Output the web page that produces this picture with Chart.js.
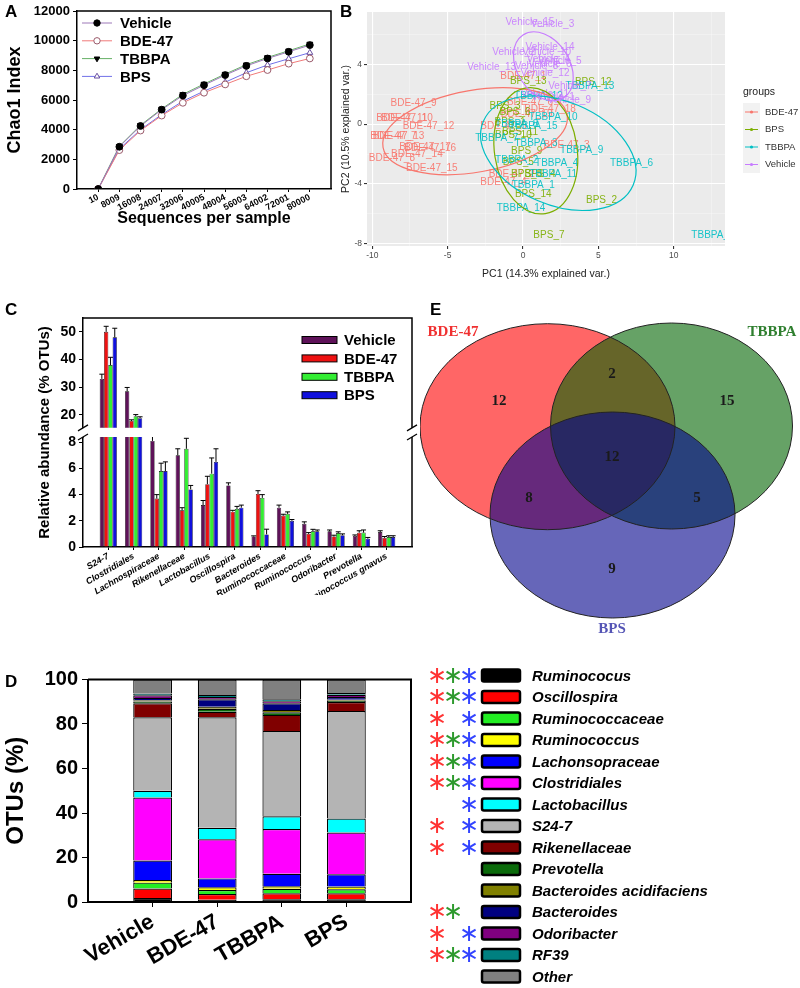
<!DOCTYPE html>
<html>
<head>
<meta charset="utf-8">
<script src="https://cdn.jsdelivr.net/npm/chart.js@4.4.0/dist/chart.umd.min.js"></script>
<style>
  body { margin: 0; background: #fff; width: 800px; height: 988px; position: relative; overflow: hidden; font-family: "Liberation Sans", Arial, sans-serif; }
  canvas { position: absolute; }
  .tag { position: absolute; font-weight: bold; font-size: 17px; line-height: 17px; }
</style>
</head>
<body>
<canvas id="cA" width="340" height="228" style="left:0;top:0"></canvas>
<canvas id="cB" width="460" height="280" style="left:340px;top:0"></canvas>
<canvas id="cC" width="420" height="300" style="left:0;top:295px"></canvas>
<canvas id="cE" width="380" height="350" style="left:420px;top:290px"></canvas>
<canvas id="cD" width="800" height="328" style="left:0;top:660px"></canvas>
<div class="tag" style="left:5px;top:3px">A</div>
<div class="tag" style="left:340px;top:3px">B</div>
<div class="tag" style="left:5px;top:301px">C</div>
<div class="tag" style="left:5px;top:673px">D</div>
<div class="tag" style="left:430px;top:301px">E</div>
<script>
// ---- A: rarefaction curves ----
const seqDepth = [10, 8009, 16008, 24007, 32006, 40005, 48004, 56003, 64002, 72001, 80000];
const chaoVehicle = [0, 2850, 4250, 5350, 6300, 7000, 7680, 8300, 8800, 9250, 9700];
const chaoBDE47 = [0, 2620, 3940, 4950, 5810, 6490, 7050, 7600, 8020, 8450, 8800];
const chaoTBBPA = [0, 2880, 4300, 5400, 6380, 7080, 7750, 8380, 8870, 9320, 9780];
const chaoBPS = [0, 2700, 4000, 5020, 5920, 6600, 7200, 7840, 8360, 8780, 9190];

// ---- B: PCA ----
const pcaGroups = ['BDE-47', 'BPS', 'TBBPA', 'Vehicle'];
const pcaColors = ['#F8766D', '#7CAE00', '#00BFC4', '#C77CFF'];
const pcaBdeNames = ['BDE-47_9', 'BDE-47_10', 'BDE-47_11', 'BDE-47_12', 'BDE-47_13', 'BDE-47_7', 'BDE-47_16', 'BDE-47_17', 'BDE-47_14', 'BDE-47_8', 'BDE-47_15', 'BDE-47_3', 'BDE-47_5', 'BDE-47_2', 'BDE-47_4', 'BDE-47_6', 'BDE-47_18', 'BDE-47_1', 'BDE-47_19'];
const pcaBdeX = [-7.26, -7.7, -8.04, -6.27, -8.26, -8.6, -6.16, -6.5, -7.04, -8.7, -6.05, 2.89, -1.3, -0.75, -1.3, 0.46, 1.79, 0.02, 0.24];
const pcaBdeY = [1.38, 0.4, 0.4, -0.16, -0.78, -0.78, -1.6, -1.56, -2.0, -2.27, -2.96, -1.44, -0.11, -3.38, -3.89, 1.44, 1.0, 3.22, 0.67];
const pcaBpsNames = ['BPS_12', 'BPS_3', 'BPS_10', 'BPS_9', 'BPS_14', 'BPS_2', 'BPS_7', 'BPS_1', 'BPS_5', 'BPS_8', 'BPS_13', 'BPS_6', 'BPS_4', 'BPS_11'];
const pcaBpsX = [4.66, -1.19, -0.64, 0.24, 0.68, 5.21, 1.72, -0.86, -0.31, 0.24, 0.35, -0.53, 1.13, -0.2];
const pcaBpsY = [2.78, 1.22, -0.71, -1.84, -4.67, -5.07, -7.44, 0.11, -2.56, -3.33, 2.89, 0.78, -3.33, -0.51];
const pcaTbbpaNames = ['TBBPA_13', 'TBBPA_10', 'TBBPA_8', 'TBBPA_7', 'TBBPA_3', 'TBBPA_9', 'TBBPA_6', 'TBBPA_4', 'TBBPA_11', 'TBBPA_1', 'TBBPA_14', 'TBBPA_5', 'TBBPA_2', 'TBBPA_12', 'TBBPA_15'];
const pcaTbbpaX = [4.44, 2.0, -0.42, -1.74, 0.86, 3.89, 7.2, 2.23, 2.0, 0.68, -0.13, 12.6, -0.42, 1.02, 0.68];
const pcaTbbpaY = [2.51, 0.44, 0.0, -0.96, -1.29, -1.73, -2.62, -2.62, -3.38, -4.11, -5.6, -7.4, -2.44, 1.84, -0.11];
const pcaVehNames = ['Vehicle_15', 'Vehicle_3', 'Vehicle_14', 'Vehicle_2', 'Vehicle_10', 'Vehicle_4', 'Vehicle_6', 'Vehicle_13', 'Vehicle_12', 'Vehicle_8', 'Vehicle_7', 'Vehicle_11', 'Vehicle_9', 'Vehicle_1', 'Vehicle_5'];
const pcaVehX = [0.46, 1.96, 1.79, -0.6, 1.57, 1.68, 1.79, -2.08, 1.46, 0.9, 3.11, 1.46, 3.07, 2.0, 2.45];
const pcaVehY = [6.82, 6.67, 5.16, 4.82, 4.78, 4.33, 4.0, 3.82, 3.4, 3.9, 2.51, 2.0, 1.6, 1.78, 4.2];
// confidence ellipses, same order as pcaGroups
const ellCx = [-3.18, 0.85, 2.34, 1.35];
const ellCy = [-0.47, -1.78, -1.94, 3.87];
const ellRx = [6.2, 2.74, 5.4, 1.73];
const ellRy = [2.74, 4.25, 3.46, 2.5];
const ellRot = [-10, -8.6, 23, -33];

// ---- C: relative abundance ----
const genera = ['S24-7', 'Clostridiales', 'Lachnospiraceae', 'Rikenellaceae', 'Lactobacillus', 'Oscillospira', 'Bacteroides', 'Ruminococcaceae', 'Ruminococcus', 'Odoribacter', 'Prevotella', 'Ruminococcus gnavus'];
const groups = ['Vehicle', 'BDE-47', 'TBBPA', 'BPS'];
const groupColors = ['#5e1259', '#ee1111', '#33ee33', '#1010dd'];
const relVehicle = [33.0, 28.5, 8.1, 7.0, 3.2, 4.7, 0.8, 3.0, 1.77, 1.2, 0.84, 1.14];
const relBDE47 = [50.0, 17.8, 3.7, 2.8, 4.8, 2.7, 4.05, 2.4, 1.0, 0.8, 1.09, 0.7];
const relTBBPA = [38.0, 19.5, 5.8, 7.5, 5.6, 2.9, 3.75, 2.53, 1.2, 1.06, 1.1, 0.76];
const relBPS = [48.0, 18.8, 5.8, 4.4, 6.5, 3.0, 0.96, 2.0, 1.2, 0.9, 0.63, 0.76];
const errVehicle = [1.7, 1.4, 0.35, 0.5, 0.35, 0.2, 0.05, 0.2, 0.15, 0.1, 0.08, 0.1];
const errBDE47 = [2.0, 0.4, 0.3, 0.2, 0.6, 0.1, 0.25, 0.1, 0.1, 0.1, 0.15, 0.1];
const errTBBPA = [2.8, 0.6, 0.6, 0.8, 1.2, 0.2, 0.25, 0.15, 0.15, 0.1, 0.2, 0.1];
const errBPS = [3.3, 0.5, 0.7, 0.3, 1.0, 0.2, 0.4, 0.1, 0.1, 0.1, 0.1, 0.1];
const breakTop = 15.3;

// ---- D: OTU composition (stack order bottom -> top) ----
const taxa = ['Ruminococus', 'Oscillospira', 'Ruminococcaceae', 'Ruminococcus', 'Lachonsopraceae', 'Clostridiales', 'Lactobacillus', 'S24-7', 'Rikenellaceae', 'Prevotella', 'Bacteroides acidifaciens', 'Bacteroides', 'Odoribacter', 'RF39', 'Other'];
const taxaColors = ['#000000', '#ff0000', '#22ee22', '#ffff00', '#0000ff', '#ff00ff', '#00ffff', '#b4b4b4', '#800000', '#0a6a0a', '#808000', '#000080', '#800080', '#008080', '#808080'];
const compVehicle = [1.8, 4.3, 2.6, 1.2, 8.7, 28.4, 3.0, 33.0, 6.3, 0.8, 0.6, 1.0, 1.2, 0.8, 6.3];
const compBDE47 = [1.0, 2.6, 1.8, 1.2, 4.0, 17.6, 5.2, 49.6, 2.5, 1.3, 1.0, 3.3, 1.0, 0.9, 7.0];
const compTBBPA = [1.2, 2.7, 2.0, 1.2, 5.6, 20.1, 5.7, 38.4, 7.2, 1.2, 1.0, 3.0, 0.9, 0.9, 8.9];
const compBPS = [1.2, 2.7, 1.8, 1.3, 5.5, 18.7, 6.3, 48.3, 4.1, 0.5, 0.5, 1.2, 1.0, 0.8, 6.1];
const sigBDE47 = [1, 1, 1, 1, 1, 1, 0, 1, 1, 0, 0, 1, 1, 1, 0];
const sigTBBPA = [1, 1, 0, 1, 1, 1, 0, 0, 0, 0, 0, 1, 0, 1, 0];
const sigBPS = [1, 1, 1, 1, 1, 1, 1, 1, 1, 0, 0, 0, 1, 1, 0];

// ---- E: Venn ----
const vennSets = ['BDE-47', 'TBBPA', 'BPS'];
const vennFill = ['rgba(255,0,0,0.6)', 'rgba(0,100,0,0.6)', 'rgba(0,0,139,0.6)'];
const vennText = ['#f03030', '#2f7f2f', '#5555b5'];
const vennCx = [-0.625, 0.615, 0.025];
const vennCy = [0.433, 0.44, -0.45];
const vennRx = [1.275, 1.21, 1.225];
const vennRy = [1.03, 1.03, 1.03];
const vennNameX = [-1.57, 1.62, 0.02];
const vennNameY = [1.38, 1.38, -1.59];
const vennCounts = [12, 2, 15, 12, 8, 5, 9];
const vennCountX = [-1.11, 0.02, 1.17, 0.02, -0.81, 0.87, 0.02];
const vennCountY = [0.69, 0.96, 0.69, 0.13, -0.28, -0.28, -0.99];

const FONT = '"Liberation Sans", Arial, sans-serif';
Chart.defaults.font.family = FONT;
Chart.defaults.color = '#000';
Chart.defaults.animation = false;
Chart.defaults.responsive = false;
Chart.defaults.devicePixelRatio = 1;
Chart.defaults.plugins.legend.display = false;
Chart.defaults.plugins.tooltip.enabled = false;

const frame = {
  id: 'frame',
  afterDraw(chart, args, opts) {
    const { ctx, chartArea: a } = chart;
    ctx.save();
    ctx.strokeStyle = '#000';
    ctx.lineWidth = opts.width || 1.5;
    ctx.beginPath();
    ctx.moveTo(a.left, a.top);
    ctx.lineTo(a.right, a.top);
    ctx.lineTo(a.right, a.bottom);
    ctx.stroke();
    ctx.restore();
  }
};

// ================= A =================
const seriesA = [
  { label: 'Vehicle', data: chaoVehicle, line: '#9d78b8', style: 'circle', rot: 0, fill: '#000', edge: '#000' },
  { label: 'BDE-47', data: chaoBDE47, line: '#f07a7a', style: 'circle', rot: 0, fill: '#fff', edge: '#9a5a6a' },
  { label: 'TBBPA', data: chaoTBBPA, line: '#66b066', style: 'triangle', rot: 180, fill: '#000', edge: '#000' },
  { label: 'BPS', data: chaoBPS, line: '#7070e8', style: 'triangle', rot: 0, fill: '#fff', edge: '#6a50a0' }
];

const lineLegend = {
  id: 'lineLegend',
  afterDraw(chart) {
    const { ctx, chartArea: a } = chart;
    ctx.save();
    chart.data.datasets.forEach((ds, i) => {
      const y = a.top + 12 + i * 17.8;
      const x0 = a.left + 5;
      ctx.strokeStyle = ds.borderColor;
      ctx.lineWidth = 1;
      ctx.beginPath();
      ctx.moveTo(x0, y);
      ctx.lineTo(x0 + 30, y);
      ctx.stroke();
      ctx.fillStyle = ds.pointBackgroundColor;
      ctx.strokeStyle = ds.pointBorderColor;
      Chart.helpers.drawPoint(ctx, { pointStyle: ds.pointStyle, rotation: ds.pointRotation, radius: 3.2, borderWidth: 1 }, x0 + 15, y);
      ctx.fillStyle = '#000';
      ctx.font = 'bold 15px ' + FONT;
      ctx.textBaseline = 'middle';
      ctx.fillText(ds.label, x0 + 38, y + 1);
    });
    ctx.restore();
  }
};

new Chart(document.getElementById('cA'), {
  type: 'line',
  data: {
    datasets: seriesA.map(s => ({
      label: s.label,
      data: seqDepth.map((x, i) => ({ x, y: s.data[i] })),
      borderColor: s.line,
      borderWidth: 1,
      pointStyle: s.style,
      pointRotation: s.rot,
      pointRadius: 3.4,
      pointBackgroundColor: s.fill,
      pointBorderColor: s.edge,
      pointBorderWidth: 1
    }))
  },
  options: {
    layout: { padding: { top: 11, right: 9 } },
    plugins: { frame: { width: 1.5 } },
    scales: {
      x: {
        type: 'linear', min: -8000, max: 88000, offset: false,
        afterBuildTicks: s => { s.ticks = seqDepth.map(v => ({ value: v })); },
        afterFit: s => { s.height = 39; },
        ticks: { autoSkip: false, minRotation: 27, maxRotation: 27, padding: 0, font: { size: 9, weight: 'bold' }, callback: v => String(v) },
        grid: { drawOnChartArea: false, tickLength: 3, color: '#000' },
        border: { color: '#000', width: 1.5 },
        title: { display: true, text: 'Sequences per sample', font: { size: 16, weight: 'bold' }, padding: 0 }
      },
      y: {
        min: 0, max: 12000,
        afterFit: s => { s.width = 77; },
        ticks: { stepSize: 2000, font: { size: 13, weight: 'bold' }, padding: 3, callback: v => String(v) },
        grid: { drawOnChartArea: false, tickLength: 4, color: '#000' },
        border: { color: '#000', width: 1.5 },
        title: { display: true, text: 'Chao1 Index', font: { size: 18, weight: 'bold' } }
      }
    }
  },
  plugins: [frame, lineLegend]
});

// ================= B =================
const ggBack = {
  id: 'ggBack',
  beforeDraw(chart) {
    const { ctx, chartArea: a } = chart;
    ctx.save();
    ctx.fillStyle = '#ebebeb';
    ctx.fillRect(a.left, a.top, a.width, a.height);
    ctx.restore();
  }
};

const pcaMarks = {
  id: 'pcaMarks',
  afterDatasetsDraw(chart) {
    const { ctx, chartArea: a, scales: { x, y } } = chart;
    const kx = Math.abs(x.getPixelForValue(1) - x.getPixelForValue(0));
    const ky = Math.abs(y.getPixelForValue(1) - y.getPixelForValue(0));
    ctx.save();
    ctx.beginPath();
    ctx.rect(a.left, a.top, a.width, a.height);
    ctx.clip();
    ctx.font = '10px ' + FONT;
    ctx.textAlign = 'center';
    ctx.textBaseline = 'middle';
    chart.data.datasets.forEach((ds, i) => {
      const meta = chart.getDatasetMeta(i);
      ctx.fillStyle = ds.borderColor;
      ctx.globalAlpha = 0.9;
      meta.data.forEach((pt, j) => ctx.fillText(ds.names[j], pt.x, pt.y));
    });
    ctx.globalAlpha = 1;
    ctx.lineWidth = 1.2;
    pcaGroups.forEach((g, i) => {
      ctx.strokeStyle = pcaColors[i];
      ctx.beginPath();
      ctx.ellipse(x.getPixelForValue(ellCx[i]), y.getPixelForValue(ellCy[i]), ellRx[i] * kx, ellRy[i] * ky, ellRot[i] * Math.PI / 180, 0, 2 * Math.PI);
      ctx.stroke();
    });
    ctx.restore();
  }
};

const ggLegend = {
  id: 'ggLegend',
  afterDraw(chart) {
    const { ctx, chartArea: a } = chart;
    const x0 = a.right + 18;
    ctx.save();
    ctx.fillStyle = '#222';
    ctx.font = '10.5px ' + FONT;
    ctx.textBaseline = 'middle';
    ctx.fillText('groups', x0, a.top + 80);
    ctx.fillStyle = '#f2f2f2';
    ctx.fillRect(x0, a.top + 91, 17, 70);
    pcaGroups.forEach((g, i) => {
      const y = a.top + 100 + i * 17.5;
      ctx.strokeStyle = pcaColors[i];
      ctx.lineWidth = 1;
      ctx.beginPath();
      ctx.moveTo(x0 + 2, y);
      ctx.lineTo(x0 + 15, y);
      ctx.stroke();
      ctx.fillStyle = pcaColors[i];
      ctx.beginPath();
      ctx.arc(x0 + 8.5, y, 1.6, 0, 2 * Math.PI);
      ctx.fill();
      ctx.fillStyle = '#333';
      ctx.font = '9.5px ' + FONT;
      ctx.fillText(g, x0 + 22, y);
    });
    ctx.restore();
  }
};

const pcaNames = [pcaBdeNames, pcaBpsNames, pcaTbbpaNames, pcaVehNames];
const pcaXs = [pcaBdeX, pcaBpsX, pcaTbbpaX, pcaVehX];
const pcaYs = [pcaBdeY, pcaBpsY, pcaTbbpaY, pcaVehY];
const isMajor = (v, step) => Math.abs(v / step - Math.round(v / step)) < 1e-6;

new Chart(document.getElementById('cB'), {
  type: 'scatter',
  data: {
    datasets: pcaGroups.map((g, i) => ({
      label: g,
      names: pcaNames[i],
      data: pcaXs[i].map((x, j) => ({ x, y: pcaYs[i][j] })),
      borderColor: pcaColors[i],
      pointRadius: 0
    }))
  },
  options: {
    layout: { padding: { top: 12, right: 75 } },
    scales: {
      x: {
        type: 'linear', min: -10.35, max: 13.4,
        afterBuildTicks: s => { const t = []; for (let v = -10; v <= 12.5; v += 2.5) t.push({ value: v }); s.ticks = t; },
        afterFit: s => { s.height = 34; },
        ticks: { color: '#4d4d4d', font: { size: 8.5 }, padding: 2, maxRotation: 0, callback: v => isMajor(v, 5) ? v : '' },
        grid: {
          color: c => (c.tick && isMajor(c.tick.value, 5)) ? '#ffffff' : 'rgba(255,255,255,0.6)',
          lineWidth: c => (c.tick && isMajor(c.tick.value, 5)) ? 1.1 : 0.5,
          tickColor: c => (c.tick && isMajor(c.tick.value, 5)) ? '#333' : 'rgba(0,0,0,0)',
          tickLength: 3
        },
        border: { display: false },
        title: { display: true, text: 'PC1 (14.3% explained var.)', color: '#222', font: { size: 10.5 }, padding: 0 }
      },
      y: {
        min: -8.15, max: 7.5,
        afterBuildTicks: s => { const t = []; for (let v = -8; v <= 6; v += 2) t.push({ value: v }); s.ticks = t; },
        afterFit: s => { s.width = 27; },
        ticks: { color: '#4d4d4d', font: { size: 8.5 }, padding: 2, autoSkip: false, callback: v => isMajor(v, 4) ? v : '' },
        grid: {
          color: c => (c.tick && isMajor(c.tick.value, 4)) ? '#ffffff' : 'rgba(255,255,255,0.6)',
          lineWidth: c => (c.tick && isMajor(c.tick.value, 4)) ? 1.1 : 0.5,
          tickColor: c => (c.tick && isMajor(c.tick.value, 4)) ? '#333' : 'rgba(0,0,0,0)',
          tickLength: 3
        },
        border: { display: false },
        title: { display: true, text: 'PC2 (10.5% explained var.)', color: '#222', font: { size: 10.5 }, padding: 0 }
      }
    }
  },
  plugins: [ggBack, pcaMarks, ggLegend]
});

// ================= C =================
const relSeries = [relVehicle, relBDE47, relTBBPA, relBPS];
const errSeries = [errVehicle, errBDE47, errTBBPA, errBPS];

const axisClip = {
  id: 'axisClip',
  beforeDatasetDraw(chart, args) {
    const { ctx, chartArea: a } = chart;
    const ys = args.meta.yScale;
    const bottom = ys.id === 'yHigh' ? ys.getPixelForValue(breakTop) : ys.bottom;
    ctx.save();
    ctx.beginPath();
    ctx.rect(a.left, ys.top, a.width, bottom - ys.top);
    ctx.clip();
  },
  afterDatasetDraw(chart, args) {
    const ctx = chart.ctx;
    const ds = chart.data.datasets[args.index];
    const ys = args.meta.yScale;
    ctx.strokeStyle = '#000';
    ctx.lineWidth = 1;
    args.meta.data.forEach((bar, j) => {
      const yTop = ys.getPixelForValue(ds.data[j].y + ds.err[j]);
      ctx.beginPath();
      ctx.moveTo(bar.x, bar.y);
      ctx.lineTo(bar.x, yTop);
      ctx.moveTo(bar.x - 2.5, yTop);
      ctx.lineTo(bar.x + 2.5, yTop);
      ctx.stroke();
    });
    ctx.restore();
  }
};

const brokenFrame = {
  id: 'brokenFrame',
  afterDraw(chart) {
    const { ctx, chartArea: a, scales } = chart;
    const gTop = scales.yHigh.getPixelForValue(breakTop);
    const gBot = scales.yLow.top;
    ctx.save();
    ctx.strokeStyle = '#000';
    ctx.lineWidth = 1.5;
    ctx.beginPath();
    ctx.moveTo(a.left, a.top);
    ctx.lineTo(a.right, a.top);
    ctx.lineTo(a.right, a.bottom);
    ctx.stroke();
    ctx.fillStyle = '#fff';
    ctx.lineWidth = 1.2;
    [a.left, a.right].forEach(x => {
      ctx.fillRect(x - 3, gTop, 6, gBot - gTop);
      [gTop, gBot].forEach(y => {
        ctx.beginPath();
        ctx.moveTo(x - 5, y + 3);
        ctx.lineTo(x + 5, y - 3);
        ctx.stroke();
      });
    });
    // group legend
    groups.forEach((g, i) => {
      const y = a.top + 22 + i * 18.4;
      const x0 = a.left + 219;
      ctx.fillStyle = groupColors[i];
      ctx.fillRect(x0, y - 3.5, 35, 7);
      ctx.lineWidth = 1;
      ctx.strokeRect(x0, y - 3.5, 35, 7);
      ctx.fillStyle = '#000';
      ctx.font = 'bold 15px ' + FONT;
      ctx.textBaseline = 'middle';
      ctx.fillText(g, x0 + 42, y + 1);
    });
    // y title spanning both segments
    ctx.translate(45, (a.top + a.bottom) / 2);
    ctx.rotate(-Math.PI / 2);
    ctx.font = 'bold 15px ' + FONT;
    ctx.textAlign = 'center';
    ctx.textBaseline = 'middle';
    ctx.fillText('Relative abundance (% OTUs)', 0, 0);
    ctx.restore();
  }
};

const datasetsC = [];
['yLow', 'yHigh'].forEach(axis => {
  groups.forEach((g, i) => {
    datasetsC.push({
      label: g,
      stack: g,
      yAxisID: axis,
      data: relSeries[i].map((v, j) => ({ x: j + 1, y: v })),
      err: errSeries[i],
      backgroundColor: groupColors[i],
      borderColor: '#000',
      borderWidth: 0.6,
      categoryPercentage: 0.68,
      barPercentage: 1
    });
  });
});

const yCommon = {
  afterFit: s => { s.width = 83; },
  grid: { drawOnChartArea: false, tickLength: 4, color: '#000' },
  border: { color: '#000', width: 1.5 }
};

new Chart(document.getElementById('cC'), {
  type: 'bar',
  data: { datasets: datasetsC },
  options: {
    layout: { padding: { top: 23, right: 8 } },
    scales: {
      x: {
        type: 'linear', min: 0, max: genera.length + 1, offset: false,
        afterBuildTicks: s => { s.ticks = genera.map((g, j) => ({ value: j + 1 })); },
        afterFit: s => { s.height = 48; },
        ticks: { autoSkip: false, minRotation: 30, maxRotation: 30, padding: 1, font: { size: 9, weight: 'bold', style: 'italic' }, callback: v => genera[v - 1] },
        grid: { drawOnChartArea: false, tickLength: 3, color: '#000', offset: false },
        border: { color: '#000', width: 1.5 }
      },
      yLow: Object.assign({}, yCommon, {
        type: 'linear', position: 'left', stack: 'c', stackWeight: 110, min: 0, max: 8.4,
        afterBuildTicks: s => { s.ticks = [0, 2, 4, 6, 8].map(v => ({ value: v })); },
        ticks: { autoSkip: false, font: { size: 14, weight: 'bold' }, padding: 3 }
      }),
      yHigh: Object.assign({}, yCommon, {
        type: 'linear', position: 'left', stack: 'c', stackWeight: 119, min: 12, max: 55,
        afterBuildTicks: s => { s.ticks = [20, 30, 40, 50].map(v => ({ value: v })); },
        ticks: { autoSkip: false, font: { size: 14, weight: 'bold' }, padding: 3 }
      })
    }
  },
  plugins: [axisClip, brokenFrame]
});

// ================= E =================
const venn = {
  id: 'venn',
  beforeDatasetsDraw(chart) {
    const { ctx, scales: { x, y } } = chart;
    const kx = x.getPixelForValue(1) - x.getPixelForValue(0);
    const ky = y.getPixelForValue(0) - y.getPixelForValue(1);
    ctx.save();
    vennSets.forEach((s, i) => {
      ctx.beginPath();
      ctx.ellipse(x.getPixelForValue(vennCx[i]), y.getPixelForValue(vennCy[i]), vennRx[i] * kx, vennRy[i] * ky, 0, 0, 2 * Math.PI);
      ctx.fillStyle = vennFill[i];
      ctx.fill();
    });
    ctx.strokeStyle = '#222';
    ctx.lineWidth = 1;
    vennSets.forEach((s, i) => {
      ctx.beginPath();
      ctx.ellipse(x.getPixelForValue(vennCx[i]), y.getPixelForValue(vennCy[i]), vennRx[i] * kx, vennRy[i] * ky, 0, 0, 2 * Math.PI);
      ctx.stroke();
    });
    ctx.font = 'bold 15px "Liberation Serif", "DejaVu Serif", serif';
    ctx.textAlign = 'center';
    ctx.textBaseline = 'middle';
    vennSets.forEach((s, i) => {
      ctx.fillStyle = vennText[i];
      ctx.fillText(s, x.getPixelForValue(vennNameX[i]), y.getPixelForValue(vennNameY[i]));
    });
    ctx.restore();
  },
  afterDatasetsDraw(chart) {
    const ctx = chart.ctx;
    const meta = chart.getDatasetMeta(0);
    ctx.save();
    ctx.font = 'bold 15px "Liberation Serif", "DejaVu Serif", serif';
    ctx.textAlign = 'center';
    ctx.textBaseline = 'middle';
    ctx.fillStyle = '#1a1a1a';
    meta.data.forEach((pt, j) => ctx.fillText(String(vennCounts[j]), pt.x, pt.y));
    ctx.restore();
  }
};

new Chart(document.getElementById('cE'), {
  type: 'scatter',
  data: { datasets: [{ data: vennCountX.map((x, j) => ({ x, y: vennCountY[j] })), pointRadius: 0 }] },
  options: {
    layout: { padding: 0 },
    scales: {
      x: { display: false, min: -1.9, max: 1.9 },
      y: { display: false, min: -1.7, max: 1.8 }
    }
  },
  plugins: [venn]
});

// ================= D =================
const compSeries = [compVehicle, compBDE47, compTBBPA, compBPS];
const sigSeries = [sigBDE47, sigTBBPA, sigBPS];
const starColors = ['#ff3333', '#2e9a2e', '#3344ff'];

const taxaLegend = {
  id: 'taxaLegend',
  afterDraw(chart) {
    const { ctx, chartArea: a } = chart;
    const x0 = a.right + 71;
    ctx.save();
    ctx.textBaseline = 'middle';
    taxa.forEach((t, k) => {
      const y = a.top - 4 + k * 21.5;
      ctx.font = '24px "DejaVu Sans", sans-serif';
      ctx.textAlign = 'center';
      sigSeries.forEach((sig, g) => {
        if (sig[k]) {
          ctx.fillStyle = starColors[g];
          ctx.fillText('\u2217', x0 - 45 + g * 16, y + 1);
        }
      });
      ctx.fillStyle = taxaColors[k];
      ctx.strokeStyle = '#000';
      ctx.lineWidth = 2.5;
      ctx.beginPath();
      ctx.roundRect(x0, y - 6, 38, 12, 2);
      ctx.fill();
      ctx.stroke();
      ctx.fillStyle = '#000';
      ctx.textAlign = 'left';
      ctx.font = 'italic bold 15px ' + FONT;
      ctx.fillText(t, x0 + 50, y + 1);
    });
    ctx.restore();
  }
};

new Chart(document.getElementById('cD'), {
  type: 'bar',
  data: {
    datasets: taxa.map((t, k) => ({
      label: t,
      data: groups.map((g, i) => ({ x: i + 1, y: compSeries[i][k] })),
      backgroundColor: taxaColors[k],
      borderColor: '#000',
      borderWidth: 1.2,
      barPercentage: 0.6,
      categoryPercentage: 1
    }))
  },
  options: {
    layout: { padding: { top: 19.5, right: 389 } },
    plugins: { frame: { width: 2 } },
    scales: {
      x: {
        type: 'linear', stacked: true, min: 0, max: groups.length + 1, offset: false,
        afterBuildTicks: s => { s.ticks = groups.map((g, i) => ({ value: i + 1 })); },
        afterFit: s => { s.height = 86; },
        ticks: { autoSkip: false, minRotation: 30, maxRotation: 30, padding: 2, font: { size: 22, weight: 'bold' }, callback: v => groups[v - 1] },
        grid: { drawOnChartArea: false, tickLength: 5, color: '#000', offset: false },
        border: { color: '#000', width: 2 }
      },
      y: {
        stacked: true, min: 0, max: 100,
        afterFit: s => { s.width = 88; },
        ticks: { stepSize: 20, font: { size: 20, weight: 'bold' }, padding: 4 },
        grid: { drawOnChartArea: false, tickLength: 6, color: '#000' },
        border: { color: '#000', width: 2 },
        title: { display: true, text: 'OTUs (%)', font: { size: 24, weight: 'bold' }, padding: { top: 2, bottom: 2 } }
      }
    }
  },
  plugins: [frame, taxaLegend]
});
</script>
</body>
</html>
